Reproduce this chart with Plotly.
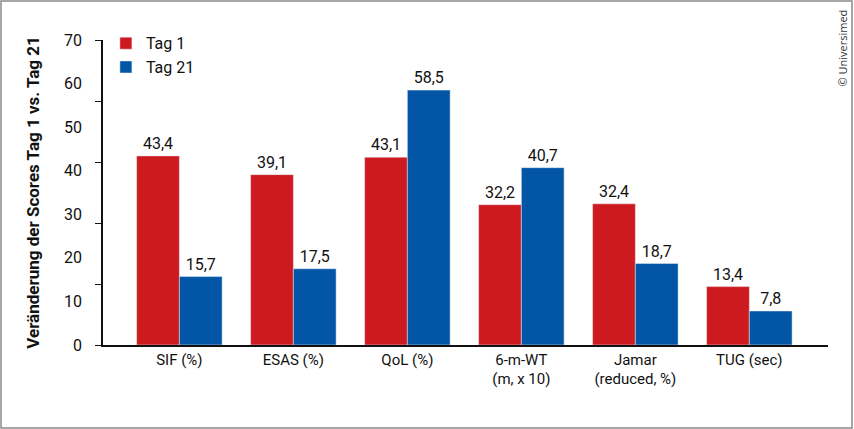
import plotly.graph_objects as go

categories = ["SIF (%)", "ESAS (%)", "QoL (%)", "6-m-WT<br>(m, x 10)", "Jamar<br>(reduced, %)", "TUG (sec)"]
tag1 = [43.4, 39.1, 43.1, 32.2, 32.4, 13.4]
tag21 = [15.7, 17.5, 58.5, 40.7, 18.7, 7.8]
ytick_labels = [0, 10, 20, 30, 40, 50, 60, 70]
ytick_marks = [0, 14, 28, 42, 56, 70]

RED = "#CC1A1F"
BLUE = "#0355A5"
FONT = "Roboto, Arial"

fig = go.Figure()
fig.add_trace(go.Bar(name="Tag 1", x=categories, y=tag1, marker_color=RED,
                     texttemplate="%{y:.1f}", textposition="outside", cliponaxis=False,
                     textfont=dict(size=16, color="#111")))
fig.add_trace(go.Bar(name="Tag 21", x=categories, y=tag21, marker_color=BLUE,
                     texttemplate="%{y:.1f}", textposition="outside", cliponaxis=False,
                     textfont=dict(size=16, color="#111")))
# invisible helper trace so the tick-mark axis is drawn
fig.add_trace(go.Scatter(x=[categories[0]], y=[0], yaxis="y2", mode="markers",
                         marker=dict(opacity=0), showlegend=False, hoverinfo="skip"))

W, H = 854, 429
L, R, T, B = 103, 26, 40, 84
pw, ph = W - L - R, H - T - B

def px(x):
    return (x - L) / pw

def py(y):
    return (H - B - y) / ph

fig.update_layout(
    width=W, height=H,
    margin=dict(l=L, r=R, t=T, b=B),
    paper_bgcolor="white", plot_bgcolor="white",
    separators=",.",
    barmode="group", bargap=0.25, bargroupgap=0,
    font=dict(family=FONT, size=15, color="#111"),
    showlegend=True,
    legend=dict(x=0.004, y=1.045, xanchor="left", yanchor="top",
                font=dict(size=16), itemwidth=30, tracegroupgap=0,
                bgcolor="rgba(0,0,0,0)"),
    xaxis=dict(range=[-0.67, 5.69], showline=True, linecolor="#111", linewidth=1.5,
               ticks="", showgrid=False, tickfont=dict(size=15), zeroline=False),
    yaxis=dict(range=[0, 70], tickmode="array", tickvals=ytick_labels,
               ticktext=[str(v) for v in ytick_labels],
               showline=True, linecolor="#111", linewidth=1.5, ticks="",
               showgrid=False, zeroline=False, tickfont=dict(size=16),
               ticklabelstandoff=16,
               title=dict(text="<b>Veränderung der Scores Tag 1 vs. Tag 21</b>",
                          font=dict(size=17), standoff=20)),
    yaxis2=dict(range=[0, 70], overlaying="y", side="left", tickmode="array",
                tickvals=ytick_marks, ticks="outside", ticklen=7, tickwidth=1,
                tickcolor="#111", showticklabels=False, showline=False,
                showgrid=False, zeroline=False),
    shapes=[dict(type="rect", xref="paper", yref="paper",
                 x0=px(1), x1=px(852), y0=py(428), y1=py(1),
                 line=dict(color="#8a8a8a", width=1.5), fillcolor="rgba(0,0,0,0)",
                 layer="below")],
    annotations=[dict(text="© Universimed", xref="paper", yref="paper",
                      x=px(842), y=py(8), xanchor="center", yanchor="top",
                      textangle=-90, showarrow=False,
                      font=dict(family="Open Sans, Arial", size=11, color="#333"))],
)

fig.write_html("out.html", config={"displayModeBar": False},
               post_script="document.body.style.margin='0';document.body.style.overflow='hidden';")
